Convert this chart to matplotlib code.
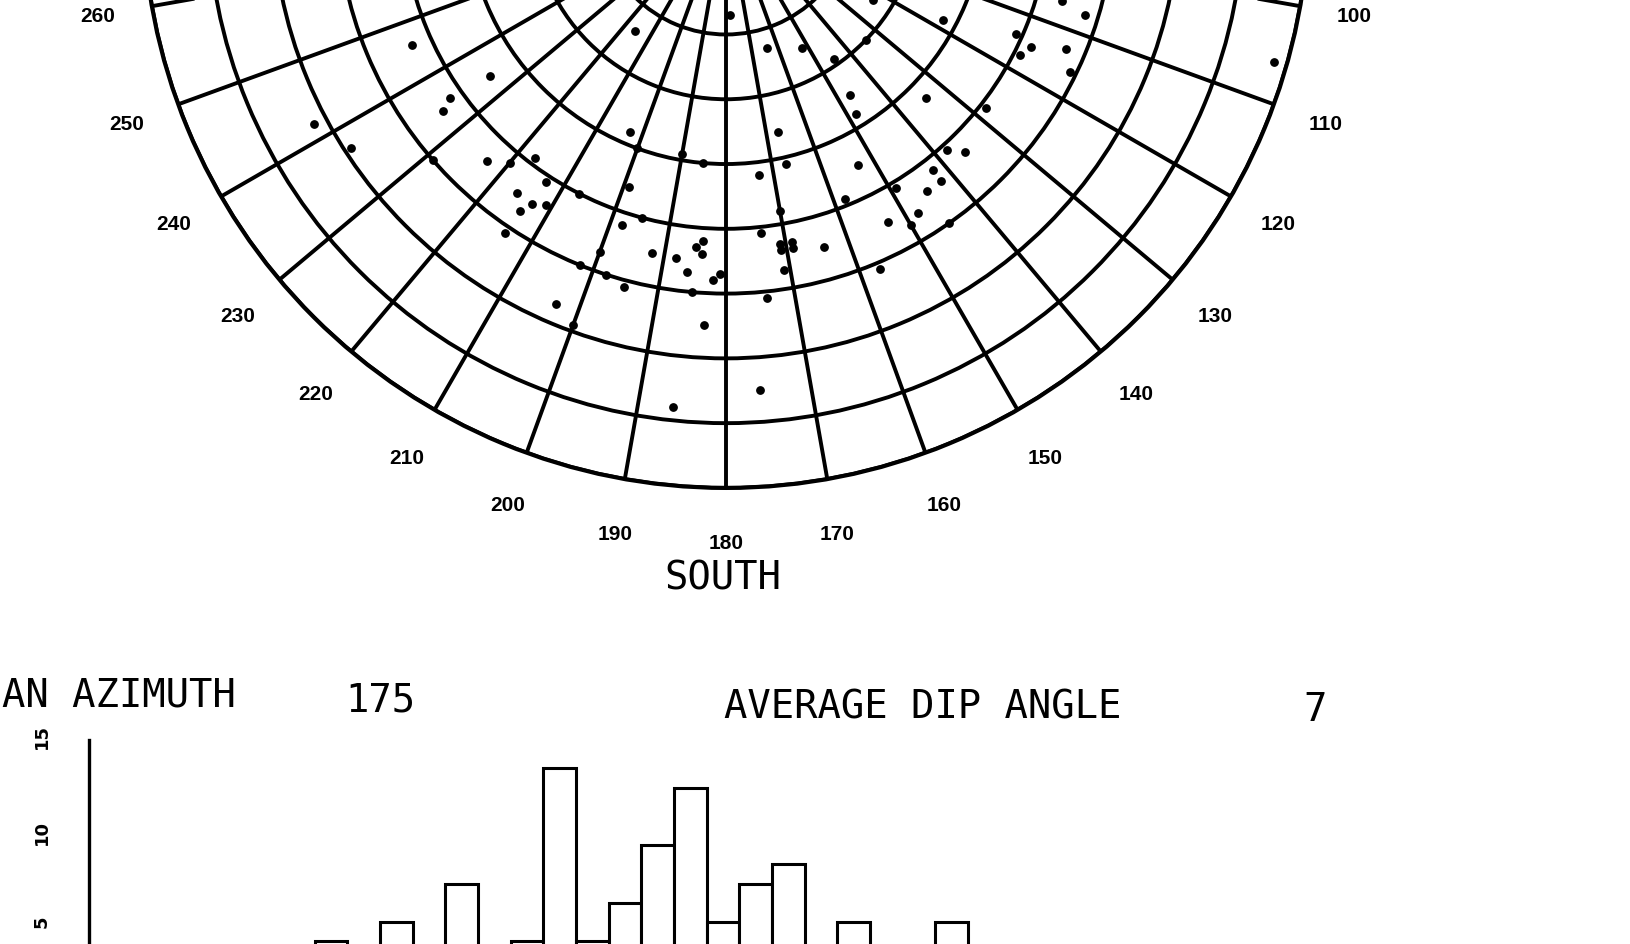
import matplotlib.pyplot as plt
import numpy as np

# pole readings: azimuth (deg clockwise from north) and dip
azimuth = [246, 234, 235, 234, 242, 237, 229, 223, 220, 217, 213, 216, 213, 211, 214, 214,
           203, 178, 216, 164, 152, 145, 203, 167, 200, 190, 185, 167, 173, 199, 207, 123,
           106, 107, 118, 114, 115, 117, 113, 116, 134, 147, 148, 134, 128, 138, 136, 142,
           142, 153, 149, 145, 158, 148, 198, 192, 200, 202, 198, 195, 195, 188, 186, 184,
           185, 184, 181, 182, 185, 183, 174, 170, 171, 169, 171, 169, 171, 174, 164, 200,
           186, 176, 153, 150, 145, 157, 106]
dip = [53, 45, 52, 54, 72, 69, 60, 54, 52, 49, 51, 55, 55, 54, 57, 61,
       67, 17, 24, 23, 25, 29, 38, 36, 40, 39, 40, 41, 42, 46, 50, 27,
       54, 58, 38, 49, 52, 51, 57, 59, 30, 35, 38, 43, 51, 51, 53, 52,
       54, 45, 51, 54, 49, 56, 52, 55, 57, 60, 60, 61, 50, 55, 57, 52,
       53, 54, 57, 58, 60, 65, 51, 48, 53, 53, 54, 54, 57, 61, 55, 69,
       78, 75, 55, 57, 60, 61, 88]

# azimuth labels that fall inside the picture
label_az = list(range(100, 270, 10))

# azimuth histogram (10 degree bins)
bin_start = [70, 90, 110, 130, 140, 150, 160, 170, 180, 190, 200, 210, 230, 260]
counts = [4, 5, 7, 4, 13, 4, 6, 9, 12, 5, 7, 8, 5, 5]

mean_azimuth = 175
avg_dip = 7

label_font = "Liberation Sans"
big_font = "DejaVu Sans Mono"

fig = plt.figure(figsize=(16.31, 9.45), dpi=100)

ax = fig.add_axes([0.0877, 0.4826, 0.7149, 1.2339], projection="polar")
ax.set_theta_zero_location("N")
ax.set_theta_direction(-1)
ax.set_rlim(0, 90)
ax.set_thetagrids(np.arange(0, 360, 10), labels=[])
ax.set_rgrids(np.arange(10, 91, 10), labels=[])
ax.grid(True, color="black", linewidth=2.8)
ax.spines["polar"].set_linewidth(3.0)
ax.tick_params(length=0)

ax.scatter(np.radians(azimuth), dip, s=28, color="black", zorder=3, clip_on=False)

for a in label_az:
    ax.text(np.radians(a), 98.5, str(a), ha="center", va="center", fontsize=15,
            fontweight="bold", family=label_font, clip_on=False)

fig.text(723 / 1631, 0.3757, "SOUTH", ha="center", va="baseline", fontsize=28, family=big_font)

hx = fig.add_axes([89.4 / 1631, -0.0783, 0.721, 0.3048])
hx.bar(bin_start, counts, width=10, align="edge", facecolor="white", edgecolor="black",
       linewidth=2.2)
hx.set_xlim(1, 361)
hx.set_ylim(0, 15)
hx.set_yticks([5, 10, 15])
hx.set_xticks([])
for side in ["top", "right", "bottom"]:
    hx.spines[side].set_visible(False)
hx.spines["left"].set_linewidth(2.4)
hx.spines["left"].set_bounds(0, 14.5)
hx.tick_params(axis="y", length=0, pad=28, labelrotation=90, labelsize=13)
for t in hx.get_yticklabels():
    t.set_fontweight("bold")

# the scan cuts the left of "MEAN AZIMUTH"; only the visible part is written
fig.text(2 / 1631, 0.2519, "AN AZIMUTH", ha="left", va="baseline", fontsize=28, family=big_font)
fig.text(345 / 1631, 0.2476, str(mean_azimuth), ha="left", va="baseline", fontsize=28, family=big_font)
fig.text(724 / 1631, 0.2402, "AVERAGE DIP ANGLE", ha="left", va="baseline", fontsize=28, family=big_font)
fig.text(1303 / 1631, 0.237, str(avg_dip), ha="left", va="baseline", fontsize=28, family=big_font)

fig.savefig("out.png", dpi=100)
